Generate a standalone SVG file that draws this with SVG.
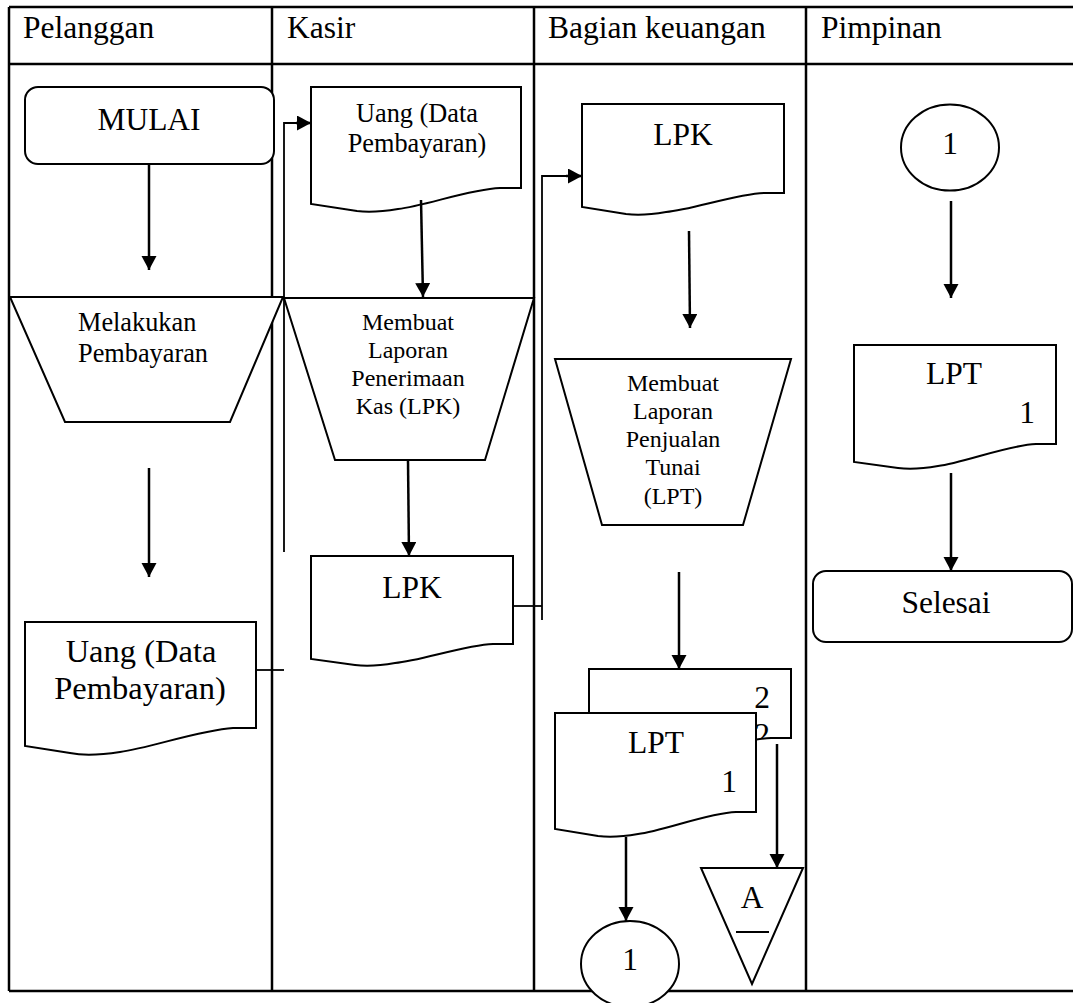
<svg xmlns="http://www.w3.org/2000/svg" width="1073" height="1003" viewBox="0 0 1073 1003">
<defs>
<style>
.tbl{stroke:#000;stroke-width:2.5;fill:none}
.shp{stroke:#000;stroke-width:2;fill:#fff}
.con{stroke:#000;stroke-width:2.5;fill:none}
.thin{stroke:#000;stroke-width:1.8;fill:none}
.t{font-family:"Liberation Serif","Times New Roman",serif;fill:#000}
.h{font-size:31.5px}
.big{font-size:31.5px;text-anchor:middle}
.xl{font-size:32.5px;text-anchor:middle}
.mid{font-size:26.3px}
.sm{font-size:24px;text-anchor:middle}
.c{text-anchor:middle}
</style>
<marker id="ah" markerUnits="userSpaceOnUse" markerWidth="16" markerHeight="16" refX="14" refY="7.5" orient="auto">
<path d="M0,0 L14,7.5 L0,15 Z" fill="#000"/>
</marker>
<clipPath id="backclip"><rect x="589" y="669" width="202" height="69"/></clipPath>
</defs>
<rect width="1073" height="1003" fill="#fff"/>
<g id="table">
<path class="tbl" d="M9,7 H1073 M9,64 H1073 M9,991 H1073 M9,7 V991 M272,7 V991 M534,7 V991 M806,7 V991"/>
<text class="t h" x="23" y="38">Pelanggan</text>
<text class="t h" x="287" y="38">Kasir</text>
<text class="t h" x="548" y="38">Bagian keuangan</text>
<text class="t h" x="821" y="38">Pimpinan</text>
</g>
<g id="mulai">
<rect class="shp" x="25" y="87" width="249" height="77" rx="13"/>
<text class="t big" x="149" y="130">MULAI</text>
</g>
<g id="melakukan">
<path class="shp" d="M10,297 H283 L230,422 H65 Z"/>
<text class="t mid" x="78" y="331">Melakukan</text>
<text class="t mid" x="78" y="362">Pembayaran</text>
</g>
<g id="uang-pelanggan">
<path class="shp" d="M25,622 H256 V728 H233 C200,730 150,748 120,752 C100,755 80,755 70,753 L25,746 Z"/>
<text class="t xl" x="141" y="662">Uang (Data</text>
<text class="t xl" x="140" y="699">Pembayaran)</text>
</g>
<g id="uang-kasir">
<path class="shp" d="M311,87 H521 V188 H500 C470,189 425,206 398,209 C380,212 365,212 357,211 L311,204 Z"/>
<text class="t mid c" x="417" y="122">Uang (Data</text>
<text class="t mid c" x="417" y="152">Pembayaran)</text>
</g>
<g id="membuat-lpk">
<path class="shp" d="M284,298 H534 L485,460 H335 Z"/>
<text class="t sm" x="408" y="330">Membuat</text>
<text class="t sm" x="408" y="358">Laporan</text>
<text class="t sm" x="408" y="386">Penerimaan</text>
<text class="t sm" x="408" y="414">Kas (LPK)</text>
</g>
<g id="lpk-kasir">
<path class="shp" d="M311,556 H513 V644 H493 C465,645 420,661 395,663 C378,666 363,666 355,665 L311,659 Z"/>
<text class="t big" x="412" y="598">LPK</text>
</g>
<g id="lpk-keuangan">
<path class="shp" d="M582,104 H784 V193 H764 C736,194 691,210 666,212 C649,215 634,215 626,214 L582,207 Z"/>
<text class="t big" x="683" y="145">LPK</text>
</g>
<g id="membuat-lpt">
<path class="shp" d="M555,359 H791 L743,525 H602 Z"/>
<text class="t sm" x="673" y="391">Membuat</text>
<text class="t sm" x="673" y="419">Laporan</text>
<text class="t sm" x="673" y="447">Penjualan</text>
<text class="t sm" x="673" y="475">Tunai</text>
<text class="t sm" x="673" y="504">(LPT)</text>
</g>
<g id="lpt-2">
<path class="shp" d="M589,669 H791 V738 H771 C743,739 698,755 673,757 C656,760 641,760 633,759 L589,752 Z"/>
<text class="t big" x="762" y="708">2</text>
<text class="t big" x="762" y="745" clip-path="url(#backclip)">2</text>
</g>
<g id="lpt-1">
<path class="shp" d="M555,713 H756 V812 H736 C708,813 663,831 638,834 C621,837 606,837 598,836 L555,829 Z"/>
<text class="t big" x="656" y="753">LPT</text>
<text class="t big" x="729" y="792">1</text>
</g>
<g id="conn-1-bottom">
<ellipse class="shp" cx="630" cy="964" rx="49" ry="43"/>
<text class="t big" x="630" y="970">1</text>
</g>
<g id="offpage-a">
<path class="shp" d="M701,868 H803 L752,984 Z"/>
<text class="t big" x="752" y="908">A</text>
<line x1="736" y1="932" x2="769" y2="932" stroke="#000" stroke-width="2"/>
</g>
<g id="conn-1-top">
<ellipse class="shp" cx="950" cy="147.5" rx="49" ry="43"/>
<text class="t big" x="950" y="154">1</text>
</g>
<g id="lpt-pimpinan">
<path class="shp" d="M854,345 H1056 V444 H1036 C1008,445 963,463 938,466 C921,469 906,469 898,468 L854,462 Z"/>
<text class="t big" x="954" y="384">LPT</text>
<text class="t big" x="1027" y="423">1</text>
</g>
<g id="selesai">
<rect class="shp" x="813" y="571" width="259" height="71" rx="13"/>
<text class="t big" x="946" y="613">Selesai</text>
</g>
<g id="connectors">
<line class="con" x1="149" y1="164" x2="149" y2="270" marker-end="url(#ah)"/>
<line class="con" x1="149" y1="468" x2="149" y2="577" marker-end="url(#ah)"/>
<line class="thin" x1="256" y1="670" x2="284" y2="670"/>
<polyline class="thin" points="284,552 284,123 309,123"/>
<line class="con" x1="296" y1="123" x2="311" y2="123" marker-end="url(#ah)"/>
<line class="con" x1="421" y1="200" x2="423" y2="297" marker-end="url(#ah)"/>
<line class="con" x1="408" y1="460" x2="409" y2="556" marker-end="url(#ah)"/>
<line class="thin" x1="513" y1="606" x2="542" y2="606"/>
<polyline class="thin" points="542,620 542,176 570,176"/>
<line class="con" x1="566" y1="176" x2="582" y2="176" marker-end="url(#ah)"/>
<line class="con" x1="689" y1="231" x2="690" y2="328" marker-end="url(#ah)"/>
<line class="con" x1="679" y1="572" x2="679" y2="669" marker-end="url(#ah)"/>
<line class="con" x1="626" y1="837" x2="626" y2="921" marker-end="url(#ah)"/>
<line class="con" x1="777" y1="744" x2="777" y2="868" marker-end="url(#ah)"/>
<line class="con" x1="951" y1="201" x2="951" y2="298" marker-end="url(#ah)"/>
<line class="con" x1="951" y1="473" x2="951" y2="571" marker-end="url(#ah)"/>
</g>
</svg>
